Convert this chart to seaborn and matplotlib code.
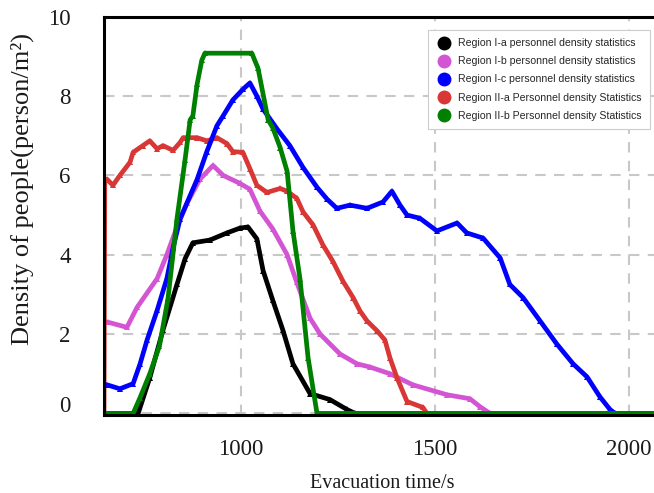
import matplotlib
matplotlib.use("Agg")
import matplotlib.pyplot as plt
import matplotlib.transforms as mtransforms
from matplotlib.lines import Line2D
import seaborn as sns
import pandas as pd

# Region I-a
t_ia = [647, 735, 765, 799, 835, 856, 876, 920, 964, 997, 1018, 1041, 1057, 1082,
        1108, 1134, 1178, 1229, 1273, 1294, 2082]
d_ia = [0, 0, 0.9, 2.1, 3.25, 3.9, 4.3, 4.37, 4.55, 4.67, 4.7, 4.4, 3.6, 2.85,
        2.1, 1.25, 0.5, 0.35, 0.1, 0, 0]

# Region I-b
t_ib = [647, 657, 706, 732, 784, 809, 835, 861, 894, 928, 954, 997, 1023, 1049,
        1082, 1119, 1144, 1178, 1204, 1255, 1299, 1332, 1384, 1443, 1531, 1590,
        1616, 1642, 2082]
d_ib = [2.3, 2.3, 2.17, 2.67, 3.4, 4.0, 4.7, 5.3, 5.9, 6.25, 6.0, 5.8, 5.65, 5.1,
        4.65, 4.0, 3.3, 2.4, 2.0, 1.5, 1.25, 1.17, 1.0, 0.72, 0.47, 0.37,
        0.17, 0, 0]

# Region I-c
t_ic = [647, 655, 688, 722, 740, 758, 784, 809, 825, 843, 887, 912, 938, 954, 979,
        1005, 1023, 1041, 1057, 1093, 1126, 1160, 1196, 1222, 1247, 1281, 1325,
        1366, 1389, 1410, 1428, 1461, 1505, 1557, 1582, 1624, 1668, 1693, 1727,
        1771, 1814, 1856, 1892, 1925, 1951, 1964, 2082]
d_ic = [0.72, 0.72, 0.62, 0.75, 1.25, 1.85, 2.6, 3.4, 4.17, 4.9, 5.9, 6.6, 7.25, 7.5,
        7.9, 8.17, 8.33, 8.0, 7.67, 7.17, 6.75, 6.2, 5.7, 5.4, 5.17, 5.25, 5.17,
        5.33, 5.6, 5.25, 5.0, 4.92, 4.6, 4.8, 4.55, 4.42, 3.92, 3.25, 2.92,
        2.33, 1.75, 1.25, 0.92, 0.42, 0.1, 0, 0]

# Region II-a
t_iia = [647, 649, 655, 670, 688, 714, 722, 747, 765, 784, 799, 825, 843, 851, 887,
         912, 938, 964, 979, 1005, 1023, 1041, 1067, 1101, 1119, 1144, 1160, 1186,
         1211, 1237, 1263, 1289, 1307, 1325, 1351, 1371, 1384, 1402, 1428, 1469,
         1479, 2082]
d_iia = [0, 5.9, 5.9, 5.75, 6.0, 6.33, 6.58, 6.75, 6.87, 6.67, 6.75, 6.63, 6.83, 6.95,
         6.95, 6.87, 6.95, 6.8, 6.6, 6.58, 6.17, 5.75, 5.57, 5.67, 5.6, 5.42, 5.08,
         4.75, 4.25, 3.83, 3.33, 2.92, 2.58, 2.33, 2.08, 1.85, 1.4, 0.9, 0.3, 0.15,
         0, 0]

# Region II-b
t_iib = [647, 722, 740, 765, 790, 812, 835, 856, 869, 876, 887, 899, 907, 1028, 1044,
         1070, 1082, 1101, 1119, 1134, 1152, 1173, 1196, 2082]
d_iib = [0, 0, 0.4, 1.0, 1.7, 2.9, 4.9, 6.4, 7.4, 7.5, 8.3, 8.9, 9.08, 9.08, 8.7,
         7.4, 7.2, 6.7, 6.1, 4.6, 3.4, 1.4, 0, 0]

labels = ["Region I-a personnel density statistics",
          "Region I-b personnel density statistics",
          "Region I-c personnel density statistics",
          "Region II-a Personnel density Statistics",
          "Region II-b Personnel density Statistics"]
colors = ["#000000", "#d455d4", "#0000ff", "#d93636", "#008000"]
series = [(t_ia, d_ia), (t_ib, d_ib), (t_ic, d_ic), (t_iia, d_iia), (t_iib, d_iib)]

x_ticks = [1000, 1500, 2000]
y_ticks = [0, 2, 4, 6, 8, 10]

sns.set_style("white")
plt.rcParams["font.family"] = ["Liberation Serif", "DejaVu Serif"]

fig = plt.figure(figsize=(6.54, 4.93), dpi=100)
ax = fig.add_axes([104 / 654, 78 / 493, 1.01 - 104 / 654, 398.3 / 493])

# drawing order: I-a, I-b, II-a, I-c, II-b
order = [0, 1, 3, 2, 4]
for z, i in enumerate(order):
    t, d = series[i]
    df = pd.DataFrame({"time": t, "density": d})
    sns.lineplot(data=df, x="time", y="density", ax=ax, color=colors[i],
                 linewidth=3.4, marker="^", markersize=5, markeredgewidth=0,
                 sort=False, estimator=None, zorder=3 + z, legend=False)

ax.set_xlim(647, 647 + (1.01 * 654 - 104) / 0.388)
ax.set_ylim(-0.04, 10)
ax.set_xticks(x_ticks)
ax.set_yticks(y_ticks)
ax.set_xticklabels([str(v) for v in x_ticks])
ax.set_yticklabels([str(v) for v in y_ticks])

ax.grid(True, color="#c8c8c8", linestyle=(0, (5, 4)), linewidth=1.5, zorder=0)
ax.set_axisbelow(True)
for side in ["left", "top", "bottom"]:
    ax.spines[side].set_color("black")
    ax.spines[side].set_linewidth(2.2)
    ax.spines[side].set_zorder(10)
ax.spines["right"].set_visible(False)

ax.tick_params(axis="both", which="major", direction="out", length=5, width=1.6,
               color="#c8c8c8", labelsize=16.5, labelcolor="#1a1a1a")
ax.tick_params(axis="x", pad=12)
ax.tick_params(axis="y", pad=19)

ax.set_xlabel("Evacuation time/s", fontsize=14.5, color="#1a1a1a", labelpad=10)
ax.set_ylabel("Density of people(person/m²)", fontsize=19, color="#1a1a1a")
ax.yaxis.set_label_coords(-0.126, 0.568)

# lift the lowest y tick label a little above the axis line
for tick in ax.yaxis.get_major_ticks():
    if tick.get_loc() == 0:
        lbl = tick.label1
        lbl.set_transform(lbl.get_transform()
                          + mtransforms.ScaledTranslation(0, 9 / 100, fig.dpi_scale_trans))

handles = [Line2D([], [], linestyle="none", marker="o", markersize=9,
                  markerfacecolor=c, markeredgecolor=c) for c in colors]
leg = ax.legend(handles, labels, loc="upper right",
                bbox_to_anchor=(650 / 654, 1 - 30 / 493), bbox_transform=fig.transFigure,
                prop={"family": "Liberation Sans", "size": 7.6},
                frameon=True, fancybox=False, edgecolor="#cccccc", framealpha=1,
                labelspacing=0.76, handletextpad=0.6, handlelength=1.45,
                borderpad=0.8, borderaxespad=0)
leg.get_frame().set_linewidth(0.8)
leg.set_zorder(20)

fig.savefig("out.png", dpi=100)
